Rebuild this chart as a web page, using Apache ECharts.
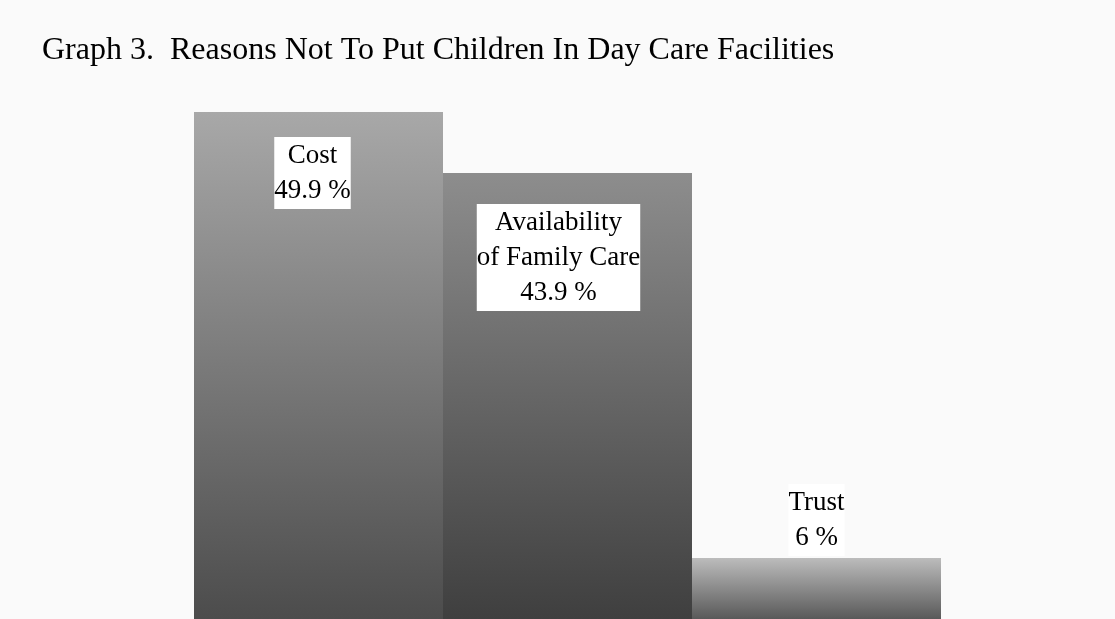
<!DOCTYPE html>
<html>
<head>
<meta charset="utf-8">
<script src="https://cdn.jsdelivr.net/npm/echarts@6/dist/echarts.min.js"></script>
<style>
  html, body { margin: 0; padding: 0; background: #fafafa; }
  #chart { width: 1115px; height: 619px; }
</style>
</head>
<body>
<div id="chart"></div>
<script>
// Reasons given, share of respondents (%)
const categories = ['Cost', 'Availability\nof Family Care', 'Trust'];
const values = [49.9, 43.9, 6];

// Per-bar vertical shading: [top colour, bottom colour]
const shades = [
  ['#a8a8a8', '#4c4c4c'],
  ['#8d8d8d', '#3f3f3f'],
  ['#bcbcbc', '#595959']
];
// Label placement per bar
const labelPlacement = [
  { position: 'insideTop', distance: 25, offset: [-6, 0] },
  { position: 'insideTop', distance: 31, offset: [-9, 0] },
  { position: 'top', distance: 2, offset: [0, 0] }
];

const chart = echarts.init(document.getElementById('chart'));

const barData = values.map((v, i) => ({
  value: v,
  itemStyle: {
    color: new echarts.graphic.LinearGradient(0, 0, 0, 1, [
      { offset: 0, color: shades[i][0] },
      { offset: 1, color: shades[i][1] }
    ])
  },
  label: labelPlacement[i]
}));

chart.setOption({
  backgroundColor: '#fafafa',
  animation: false,
  title: {
    text: 'Graph 3.  Reasons Not To Put Children In Day Care Facilities',
    left: 37,
    top: 30,
    textStyle: {
      fontFamily: 'Liberation Serif',
      fontSize: 32,
      fontWeight: 'normal',
      color: '#000'
    }
  },
  grid: { left: 194, right: 174, top: 111, bottom: 0 },
  xAxis: {
    type: 'category',
    data: categories,
    show: false
  },
  yAxis: {
    type: 'value',
    min: 0,
    max: 50,
    show: false
  },
  series: [{
    type: 'bar',
    data: barData,
    barCategoryGap: 0,
    itemStyle: { borderWidth: 0 },
    label: {
      show: true,
      formatter: p => p.name + '\n' + p.value + ' %',
      fontFamily: 'Liberation Serif',
      fontSize: 27,
      lineHeight: 35,
      color: '#000',
      backgroundColor: '#ffffff',
      padding: [1, 0]
    }
  }]
});
</script>
</body>
</html>
